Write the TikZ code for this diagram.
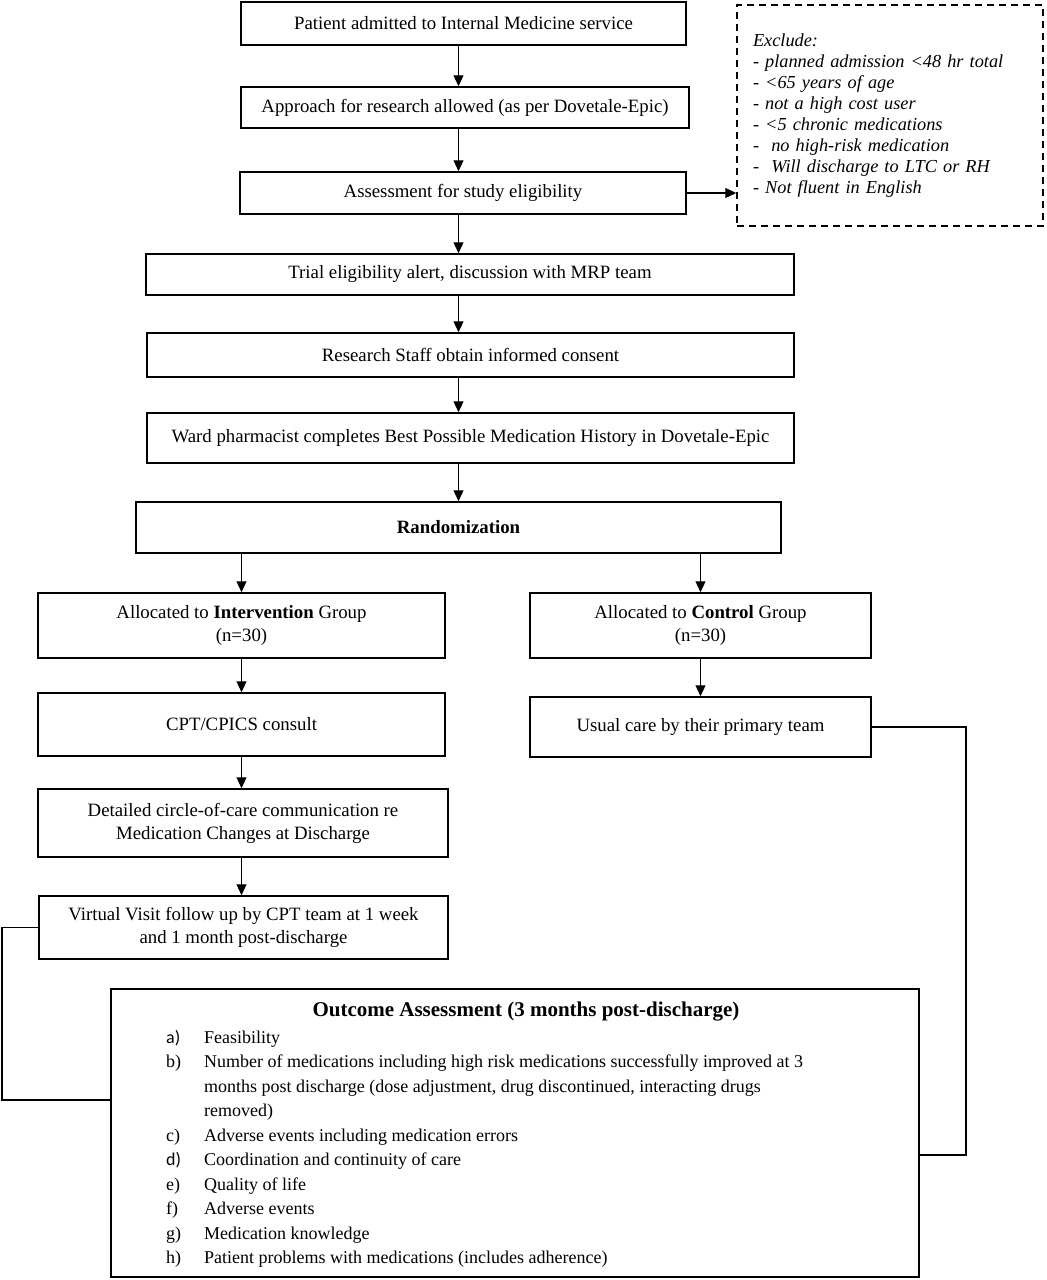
\documentclass[tikz,border=0pt]{standalone}
\usepackage{fontspec}
\setmainfont{Liberation Serif}
\newfontfamily\calfont{Carlito}
\usetikzlibrary{arrows.meta}

\tikzset{
	blk/.style={draw, line width=1.5pt, align=center, inner sep=2pt},
	arr/.style={-{Triangle[length=11pt,width=10pt]}, line width=1.1pt},
	ln/.style={line width=1.1pt}
}

\begin{document}
\begin{tikzpicture}[x=1pt, y=-1pt, font=\fontsize{18.8}{23}\selectfont]
	\useasboundingbox (0,0) rectangle (1047,1280);
	% screening
	\node[blk, minimum width=445, minimum height=43] (b1) at (463.5,23.5) {Patient admitted to Internal Medicine service};
	\node[blk, minimum width=448, minimum height=41] (b2) at (465,107.5) {Approach for research allowed (as per Dovetale-Epic)};
	\node[blk, minimum width=446, minimum height=42] (b3) at (463,193) {Assessment for study eligibility};
	\node[draw, dashed, line width=1.5pt, dash pattern=on 7pt off 5pt, minimum width=306, minimum height=221, text width=274, align=left, font=\fontsize{18.3}{21}\selectfont\itshape] (excl) at (890,115.5)
	{Exclude:\\
	- planned admission <48 hr total\\
	- <65 years of age\\
	- not a high cost user\\
	- <5 chronic medications\\
	-\ \ no high-risk medication\\
	-\ \ Will discharge to LTC or RH\\
	- Not fluent in English};
	\node[blk, minimum width=648, minimum height=41] (b4) at (470,274.5) {Trial eligibility alert, discussion with MRP team};
	\node[blk, minimum width=647, minimum height=44] (b5) at (470.5,355) {Research Staff obtain informed consent};
	\node[blk, minimum width=647, minimum height=50] (b6) at (470.5,438) {Ward pharmacist completes Best Possible Medication History in Dovetale-Epic};
	\node[blk, minimum width=645, minimum height=51] (b7) at (458.5,527.5) {\textbf{Randomization}};
	% two arms
	\node[blk, minimum width=407, minimum height=65] (b8) at (241.5,625.5) {Allocated to \textbf{Intervention} Group\\(n=30)};
	\node[blk, minimum width=341, minimum height=65] (b9) at (700.5,625.5) {Allocated to \textbf{Control} Group\\(n=30)};
	\node[blk, minimum width=407, minimum height=63] (b10) at (241.5,724.5) {CPT/CPICS consult};
	\node[blk, minimum width=341, minimum height=60] (b11) at (700.5,727) {Usual care by their primary team};
	\node[blk, minimum width=410, minimum height=68] (b12) at (243,823) {Detailed circle-of-care communication re\\Medication Changes at Discharge};
	\node[blk, minimum width=409, minimum height=63] (b13) at (243.5,927.5) {Virtual Visit follow up by CPT team at 1 week\\and 1 month post-discharge};
	% outcome
	\node[blk, minimum width=808, minimum height=288] (outc) at (515,1133) {};
	\node[font=\fontsize{21}{24}\selectfont\bfseries] (outtitle) at (526,1012) {Outcome Assessment (3 months post-discharge)};
	\node[anchor=north west, inner sep=0pt, align=left] (outlist) at (166,1026) {%
	\fontsize{18}{24.5}\selectfont
	\begin{tabular}{@{}p{38pt}@{}l@{}}
	{\calfont a)} & Feasibility\\
	b) & Number of medications including high risk medications successfully improved at 3\\
	 & months post discharge (dose adjustment, drug discontinued, interacting drugs\\
	 & removed)\\
	c) & Adverse events including medication errors\\
	{\calfont d)} & Coordination and continuity of care\\
	e) & Quality of life\\
	f) & Adverse events\\
	g) & Medication knowledge\\
	h) & Patient problems with medications (includes adherence)
	\end{tabular}};
	\coordinate (lbend) at (2,1100);
	\coordinate (rbend) at (966,1155);
	% connectors
	\draw[arr] (b1.south -| b7.north) -- (b2.north -| b7.north);
	\draw[arr] (b2.south -| b7.north) -- (b3.north -| b7.north);
	\draw[arr] (b3.east) -- (b3.east -| excl.west);
	\draw[arr] (b3.south -| b7.north) -- (b4.north -| b7.north);
	\draw[arr] (b4.south -| b7.north) -- (b5.north -| b7.north);
	\draw[arr] (b5.south -| b7.north) -- (b6.north -| b7.north);
	\draw[arr] (b6.south -| b7.north) -- (b7.north);
	\draw[arr] (b8.north |- b7.south) -- (b8.north);
	\draw[arr] (b9.north |- b7.south) -- (b9.north);
	\draw[arr] (b8.south) -- (b10.north);
	\draw[arr] (b10.south) -- (b12.north -| b10.south);
	\draw[arr] (b12.south -| b10.south) -- (b13.north -| b10.south);
	\draw[arr] (b9.south) -- (b11.north);
	\draw[ln] (b13.west) -| (lbend) -- (lbend -| outc.west);
	\draw[ln] (b11.east) -| (rbend) -- (rbend -| outc.east);
\end{tikzpicture}
\end{document}
